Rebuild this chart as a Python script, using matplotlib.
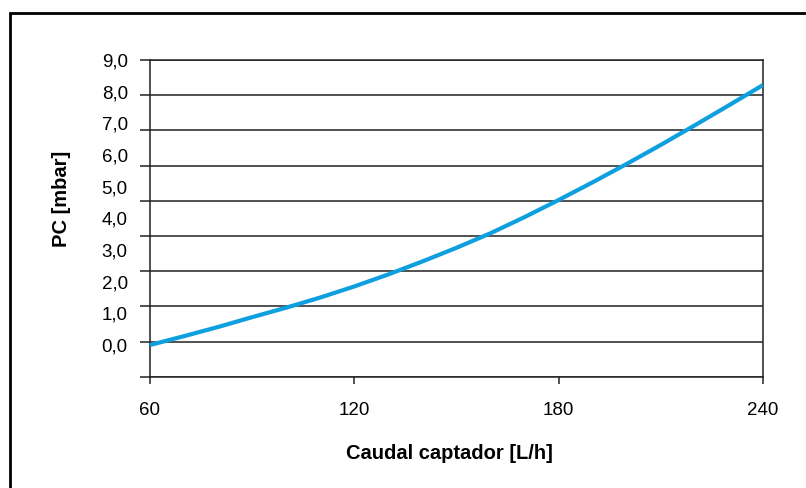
import numpy as np
import matplotlib.pyplot as plt
from matplotlib.patches import Rectangle

plt.rcParams['font.family'] = ['Liberation Sans', 'DejaVu Sans']

# caudal [L/h] y perdida de carga [mbar]
caudal = [60, 70, 80, 90, 100, 110, 120, 130, 140, 150, 160, 170, 180,
          190, 200, 210, 220, 230, 240]
pc = [0.0, 0.28, 0.57, 0.88, 1.18, 1.50, 1.85, 2.23, 2.64, 3.07, 3.53,
      4.04, 4.58, 5.14, 5.72, 6.32, 6.94, 7.57, 8.21]

x_ticks = [60, 120, 180, 240]
y_labels = ['0,0', '1,0', '2,0', '3,0', '4,0', '5,0', '6,0', '7,0', '8,0', '9,0']

fig = plt.figure(figsize=(8.06, 4.88), dpi=100)
ax = fig.add_axes([150 / 806, 1 - 376.7 / 488, 613 / 806, 316.7 / 488])

ax.plot(caudal, pc, color='#0E9FDF', lw=3, solid_capstyle='butt', zorder=3)

ax.set_xlim(60, 240)
ax.set_ylim(-1, 9)

# lineas de division (10 lineas de -1 a 9), etiquetas aparte
grid_pos = np.linspace(-1, 9, 10)
ax.yaxis.remove_overlapping_locs = False
ax.set_yticks(grid_pos)
ax.set_yticklabels([])
ax.set_yticks(range(0, 10), minor=True)
ax.set_yticklabels(y_labels, minor=True)
ax.tick_params(axis='y', which='major', direction='out', length=7,
               width=1.1, color='#222222')
ax.tick_params(axis='y', which='minor', length=0, pad=16, labelsize=13.5)
ax.grid(True, axis='y', which='major', color='#222222', lw=1.1)

ax.set_xticks(x_ticks)
ax.set_xticklabels([str(v) for v in x_ticks])
ax.tick_params(axis='x', direction='out', length=5, width=1.1,
               color='#222222', pad=13, labelsize=13.5)

for s in ax.spines.values():
    s.set_color('#222222')
    s.set_linewidth(1.1)

ax.set_xlabel('Caudal captador [L/h]', fontsize=14.5, fontweight='bold')
ax.xaxis.set_label_coords(0.489, -0.213)
ax.set_ylabel('PC [mbar]', fontsize=14.5, fontweight='bold')
ax.yaxis.set_label_coords(-0.129, 0.56)

fig.patches.append(Rectangle((9.5 / 806, -0.1), 1.2, 1 - 13.5 / 488 + 0.1,
                             transform=fig.transFigure, fill=False,
                             ec='black', lw=2))

fig.savefig('out.png', dpi=100)
